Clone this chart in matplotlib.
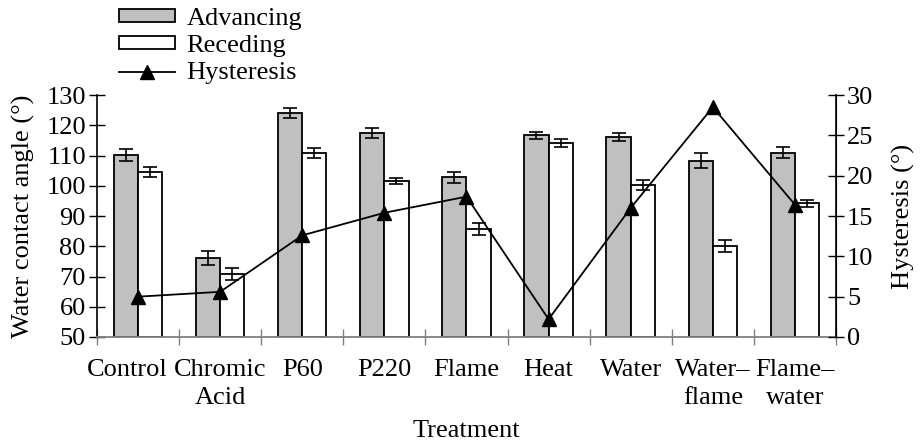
import numpy as np
import matplotlib
matplotlib.use("Agg")
import matplotlib.pyplot as plt
from matplotlib.ticker import FixedLocator, NullFormatter, FixedFormatter

plt.rcParams['font.family'] = ['Liberation Serif', 'DejaVu Serif']
plt.rcParams['font.size'] = 19

treatments = ["Control", "Chromic\nAcid", "P60", "P220", "Flame", "Heat",
              "Water", "Water\u2013\nflame", "Flame\u2013\nwater"]
advancing = [110.2, 76.2, 124.0, 117.5, 102.8, 116.7, 116.2, 108.3, 110.9]
advancing_err = [1.9, 2.3, 1.6, 1.6, 1.75, 1.1, 1.4, 2.4, 1.75]
receding = [104.7, 70.8, 110.8, 101.6, 85.6, 114.2, 100.2, 80.2, 94.2]
receding_err = [1.65, 1.9, 1.75, 1.05, 2.0, 1.25, 1.75, 2.0, 1.2]
hysteresis = [5.0, 5.6, 12.6, 15.4, 17.4, 2.2, 16.0, 28.5, 16.4]

fig = plt.figure(figsize=(9.21, 4.45), dpi=100)
ax = fig.add_axes([0.1053, 0.2427, 0.8024, 0.5438])

x = np.arange(len(treatments))
w = 0.295
ekw = dict(elinewidth=1.2, capthick=1.2, ecolor='black')
b1 = ax.bar(x - w/2, np.array(advancing) - 50, w, bottom=50, color='#c0c0c0',
            edgecolor='black', linewidth=1.3, yerr=advancing_err, capsize=5,
            error_kw=ekw, label='Advancing')
b2 = ax.bar(x + w/2, np.array(receding) - 50, w, bottom=50, color='white',
            edgecolor='black', linewidth=1.3, yerr=receding_err, capsize=5,
            error_kw=ekw, label='Receding')

ax.set_xlim(-0.5, len(treatments) - 0.5)
ax.set_ylim(50, 130)
ax.set_yticks(np.arange(50, 131, 10))
ax.tick_params(axis='y', direction='inout', length=12, width=1, pad=2)
ax.xaxis.set_major_locator(FixedLocator(np.arange(-0.5, len(treatments), 1)))
ax.xaxis.set_major_formatter(NullFormatter())
# label positions; Control label sits a little left of its bars
label_pos = x.astype(float)
label_pos[0] = -0.13
ax.xaxis.set_minor_locator(FixedLocator(label_pos))
ax.xaxis.set_minor_formatter(FixedFormatter(treatments))
ax.tick_params(axis='x', which='major', direction='inout', length=12,
               width=1, color='#808080')
ax.tick_params(axis='x', which='minor', length=0, pad=16)
for lab in ax.xaxis.get_minorticklabels():
    lab.set_linespacing(1.35)
ax.spines['top'].set_visible(False)
ax.spines['bottom'].set_color('#808080')
ax.spines['bottom'].set_linewidth(1.3)
ax.spines['left'].set_linewidth(1.2)
ax.set_ylabel("Water contact angle (\u00b0)", labelpad=8)
ax.set_xlabel("Treatment", labelpad=8)

ax2 = ax.twinx()
l1, = ax2.plot(x, hysteresis, color='black', linewidth=1.3, marker='^',
               markersize=10, label='Hysteresis')
ax2.set_ylim(0, 30)
ax2.set_yticks(np.arange(0, 31, 5))
ax2.tick_params(axis='y', direction='inout', length=12, width=1, pad=2)
ax2.spines['top'].set_visible(False)
ax2.spines['left'].set_visible(False)
ax2.spines['bottom'].set_visible(False)
ax2.spines['right'].set_linewidth(1.2)
ax2.set_ylabel("Hysteresis (\u00b0)", labelpad=13)

fig.legend(handles=[b1, b2, l1], loc='upper left',
           bbox_to_anchor=(0.118, 1.006), frameon=False, handlelength=2.1,
           handleheight=0.35, labelspacing=0.2, handletextpad=0.45,
           borderaxespad=0)

fig.savefig("out.png", dpi=100)
